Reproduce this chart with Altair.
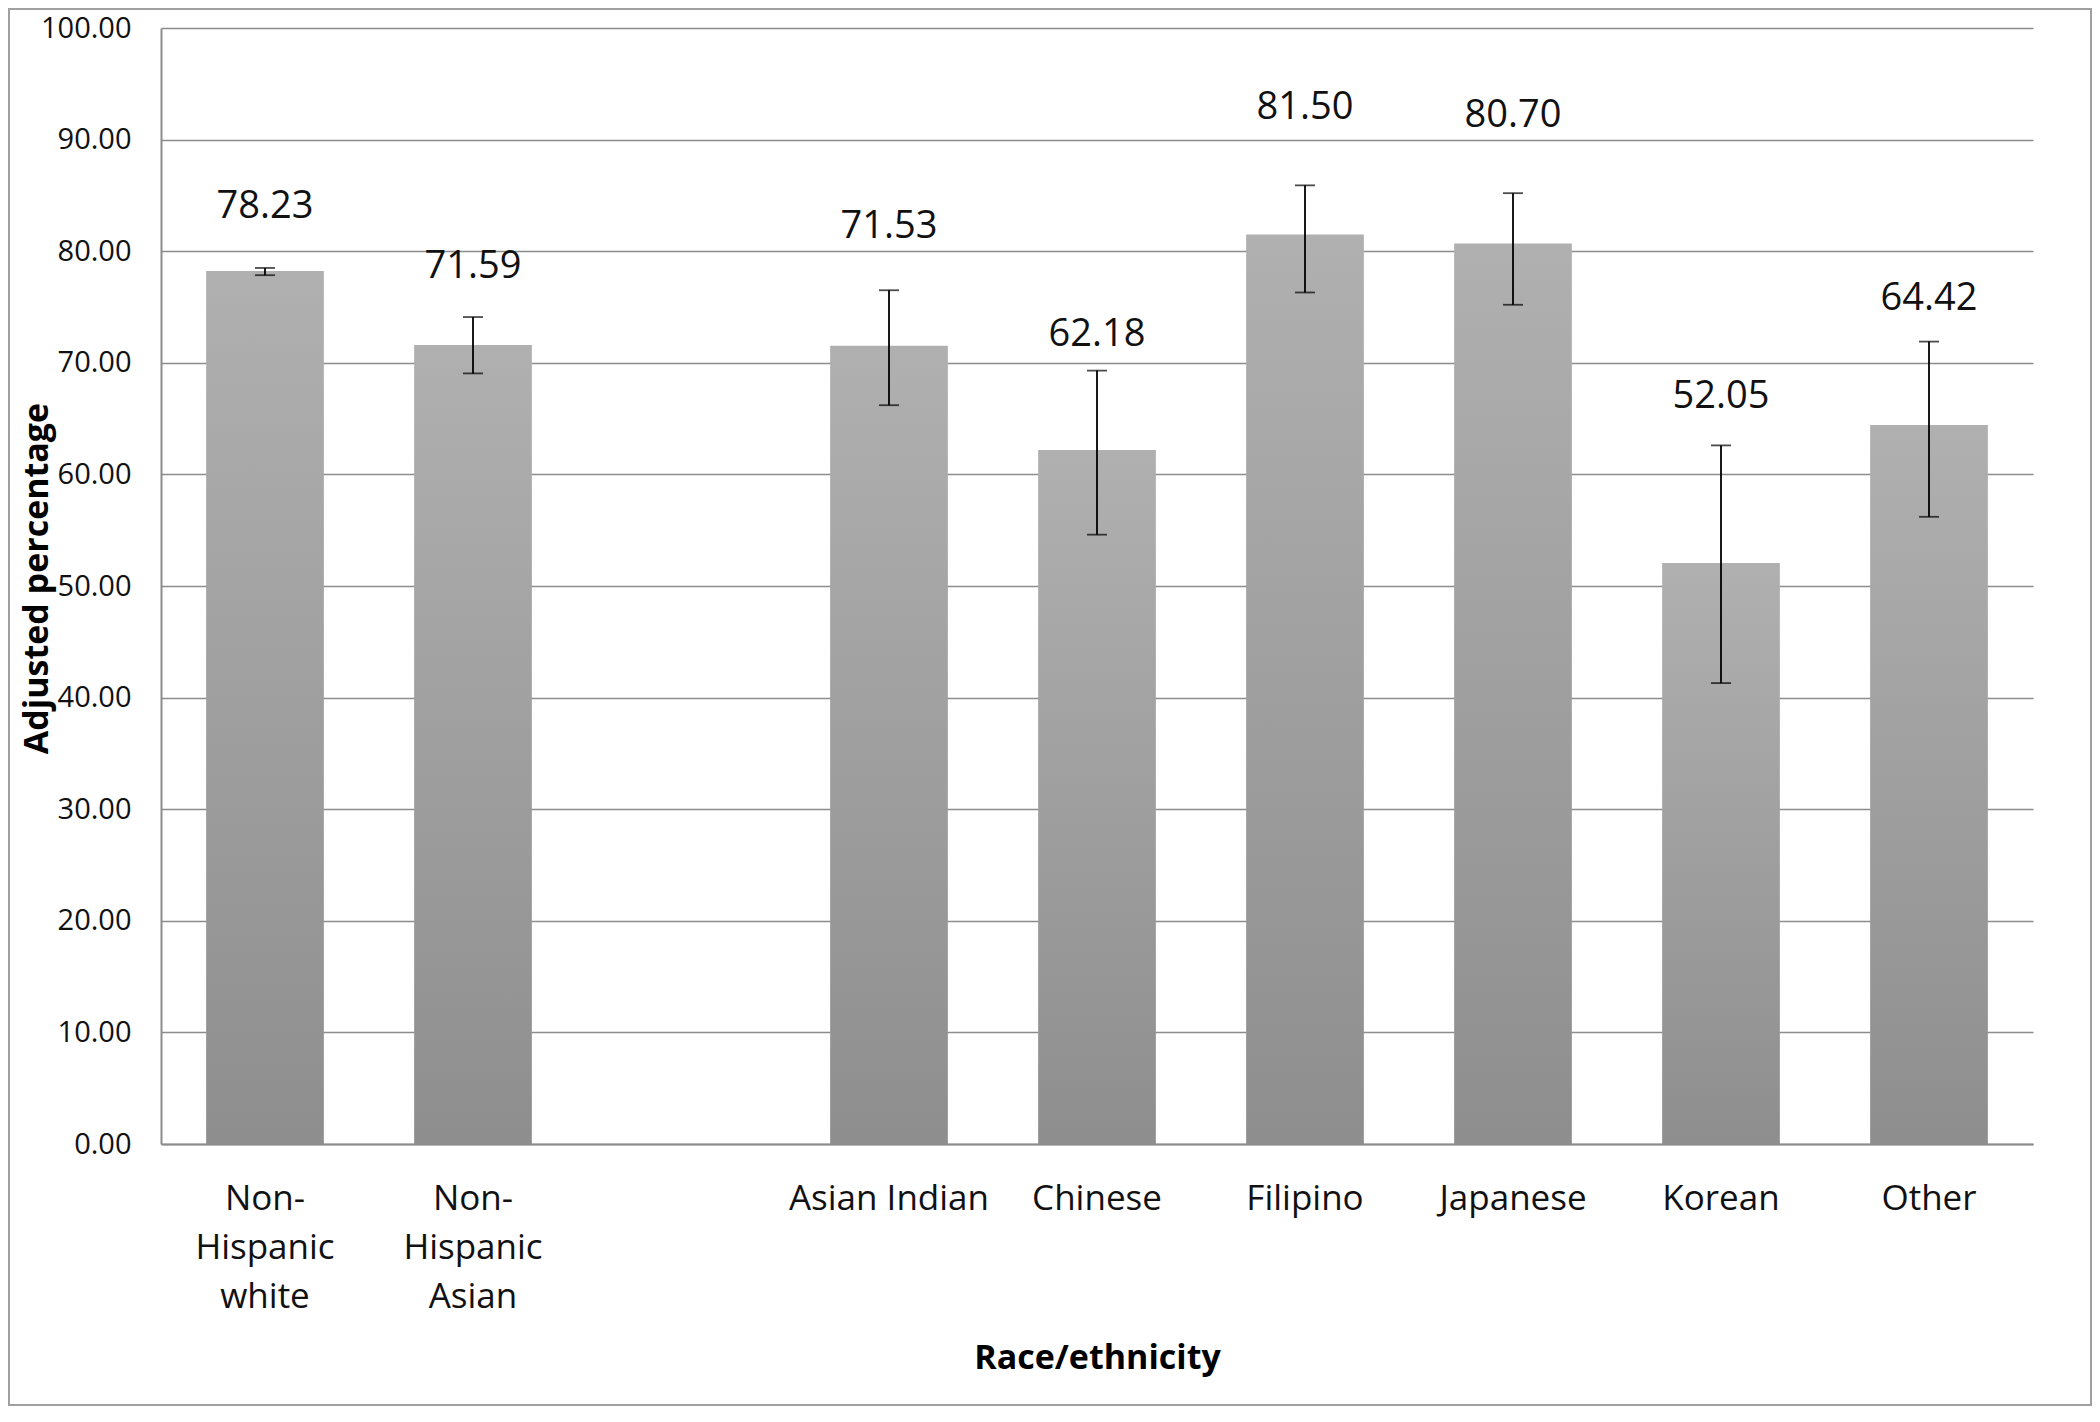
import altair as alt
import pandas as pd

categories = ["Non-Hispanic white", "Non-Hispanic Asian", " ", "Asian Indian", "Chinese",
              "Filipino", "Japanese", "Korean", "Other"]
bar_categories = ["Non-Hispanic white", "Non-Hispanic Asian", "Asian Indian", "Chinese",
                  "Filipino", "Japanese", "Korean", "Other"]
values = [78.23, 71.59, 71.53, 62.18, 81.50, 80.70, 52.05, 64.42]
err_low = [77.85, 69.05, 66.2, 54.6, 76.3, 75.2, 41.3, 56.2]
err_high = [78.5, 74.1, 76.5, 69.3, 85.9, 85.2, 62.6, 71.9]
label_at = [84.0, 78.6, 82.2, 72.5, 92.8, 92.1, 66.9, 75.7]
y_ticks = [0, 10, 20, 30, 40, 50, 60, 70, 80, 90, 100]

df = pd.DataFrame({
    "cat": bar_categories,
    "value": values,
    "lo": err_low,
    "hi": err_high,
    "lab": label_at,
})

FONT = "Open Sans"
W, H = 1872, 1116

xenc = alt.X("cat:N", sort=categories,
             scale=alt.Scale(domain=categories, paddingInner=0.434, paddingOuter=0.217),
             axis=alt.Axis(
                 title="Race/ethnicity",
                 labelAngle=0, labelLimit=0,
                 labelExpr=("datum.value == 'Non-Hispanic white' ? ['Non-','Hispanic','white'] : "
                            "datum.value == 'Non-Hispanic Asian' ? ['Non-','Hispanic','Asian'] : "
                            "datum.value == ' ' ? '' : datum.value"),
                 labelFont=FONT, labelFontSize=35, labelColor="#111111",
                 labelLineHeight=49, labelPadding=37, labelBaseline="top",
                 ticks=False, domainColor="#8c8c8c", domainWidth=2,
                 titleFont=FONT, titleFontSize=34, titleFontWeight="bold", titleColor="#000000",
                 titleX=W / 2, titleY=214, titleBaseline="middle", titleAlign="center",
             ))

yenc = alt.Y("value:Q",
             scale=alt.Scale(domain=[0, 100], nice=False),
             axis=alt.Axis(
                 title="Adjusted percentage",
                 values=y_ticks, format=".2f",
                 labelFont=FONT, labelFontSize=29, labelColor="#111111", labelPadding=30,
                 ticks=False, domainColor="#8c8c8c", domainWidth=2,
                 grid=True, gridColor="#8c8c8c", gridWidth=1.5,
                 titleFont=FONT, titleFontSize=34, titleFontWeight="bold", titleColor="#000000",
                 titleAngle=-90, titleX=-124, titleY=550,
                 titleBaseline="middle", titleAlign="center",
             ))

gradient = alt.LinearGradient(
    gradient="linear", x1=0, x2=0, y1=0, y2=1,
    stops=[alt.GradientStop(offset=0, color="#b0b0b0"),
           alt.GradientStop(offset=1, color="#8e8e8e")])

base = alt.Chart(df)

bars = base.mark_bar(color=gradient).encode(x=xenc, y=yenc)

rules = base.mark_rule(color="#000000", strokeWidth=1.8).encode(
    x=alt.X("cat:N", sort=categories), y=alt.Y("lo:Q"), y2=alt.Y2("hi:Q"))

cap_lo = base.mark_tick(color="#000000", thickness=1.8, size=20).encode(
    x=alt.X("cat:N", sort=categories), y=alt.Y("lo:Q"))
cap_hi = base.mark_tick(color="#000000", thickness=1.8, size=20).encode(
    x=alt.X("cat:N", sort=categories), y=alt.Y("hi:Q"))

labels = base.mark_text(font=FONT, fontSize=38, color="#111111", baseline="middle").encode(
    x=alt.X("cat:N", sort=categories), y=alt.Y("lab:Q"),
    text=alt.Text("value:Q", format=".2f"))

border = alt.Chart(pd.DataFrame({"k": [0]})).mark_rect(
    filled=False, stroke="#a0a0a0", strokeWidth=2).encode(
    x=alt.value(-152), x2=alt.value(1930), y=alt.value(-19), y2=alt.value(1377))

chart = alt.layer(bars, rules, cap_lo, cap_hi, labels, border).properties(
    width=W, height=H,
    autosize=alt.AutoSizeParams(type="none"),
    padding={"left": 153, "top": 20, "right": 59, "bottom": 262},
    background="#ffffff",
).configure_view(stroke=None)

chart.save("out.html", embed_options={"renderer": "svg", "actions": False})
